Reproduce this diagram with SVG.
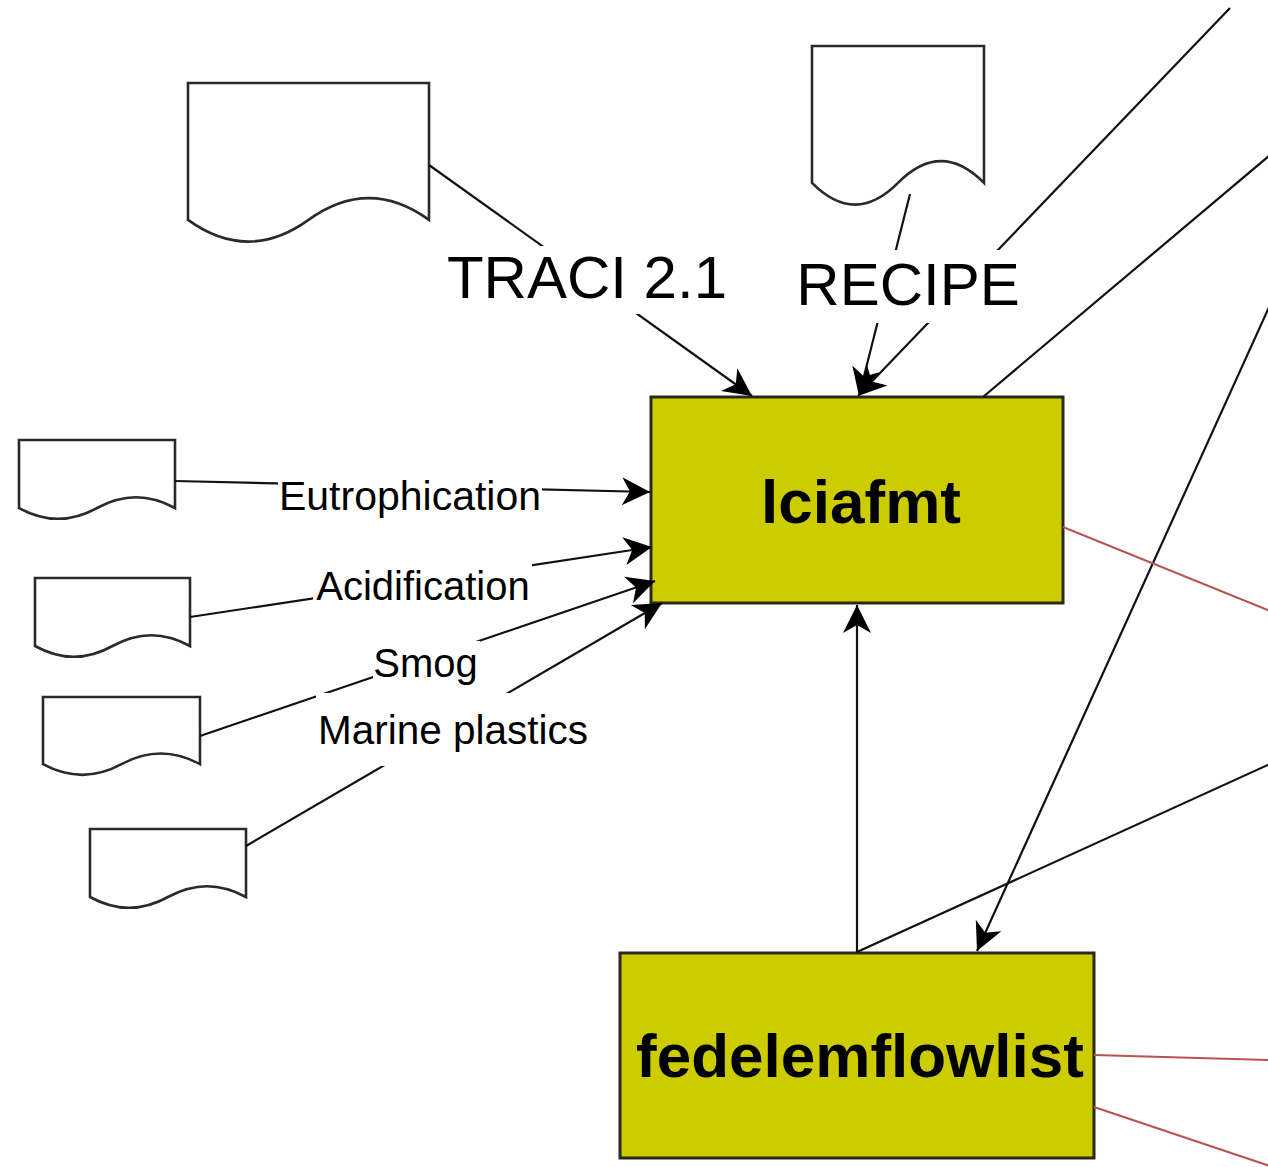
<svg xmlns="http://www.w3.org/2000/svg" width="1268" height="1167" viewBox="0 0 1268 1167">
<defs>
<style>
.doc{fill:#fff;stroke:#2a2a2a;stroke-width:2.6}
.box{fill:#cccc00;stroke:#2a2a1a;stroke-width:3}
.big{font-family:"Liberation Sans",Arial,sans-serif;font-weight:bold;font-size:62px;fill:#000;text-anchor:middle}
.lbl{font-family:"Liberation Sans",Arial,sans-serif;fill:#000;text-anchor:middle}
.edge{fill:none;stroke:#111;stroke-width:2.2}
.arr{marker-end:url(#ah)}
.red{fill:none;stroke:#b85450;stroke-width:2}
.bg{fill:#fff}
</style>
<marker id="ah" viewBox="-30 -16 32 32" refX="0" refY="0" markerWidth="32" markerHeight="32" markerUnits="userSpaceOnUse" orient="auto">
<path d="M0,0 L-28,-14 L-20,0 L-28,14 Z" fill="#000"/>
</marker>
</defs>
<rect width="1268" height="1167" fill="#fff"/>

<g id="doc-traci"><path class="doc" d="M188,83 H429 V219.9 Q368.8,176.4 308.5,219.9 Q248.3,263.3 188,219.9 Z"/></g>
<g id="doc-recipe"><path class="doc" d="M812,46 H984 V182.9 Q941,139.4 898,182.9 Q855,226.3 812,182.9 Z"/></g>
<g id="doc-eutrophication"><path class="doc" d="M19,440 H175 V508 Q136,486.4 97,508 Q58,529.6 19,508 Z"/></g>
<g id="doc-acidification"><path class="doc" d="M35,578 H190 V646 Q151.3,624.4 112.5,646 Q73.8,667.6 35,646 Z"/></g>
<g id="doc-smog"><path class="doc" d="M43,697 H200 V764.2 Q160.8,742.8 121.5,764.2 Q82.3,785.5 43,764.2 Z"/></g>
<g id="doc-marine"><path class="doc" d="M90,829 H246 V897 Q207,875.4 168,897 Q129,918.6 90,897 Z"/></g>

<g id="lciafmt">
<rect class="box" x="651" y="397" width="412" height="206"/>
<text class="big" x="861" y="523">lciafmt</text>
</g>
<g id="fedelemflowlist">
<rect class="box" x="620" y="953" width="474" height="205"/>
<text class="big" x="860" y="1077">fedelemflowlist</text>
</g>

<g id="connectors">
<line class="edge arr" x1="429" y1="165" x2="752" y2="396"/>
<line class="edge arr" x1="910" y1="194" x2="859" y2="396"/>
<line class="edge arr" x1="1230" y1="8" x2="858" y2="396"/>
<line class="edge" x1="1270" y1="155" x2="983" y2="397"/>
<line class="edge arr" x1="1270" y1="305" x2="977" y2="951"/>
<line class="edge" x1="1270" y1="764" x2="857" y2="952"/>
<line class="edge arr" x1="857" y1="952" x2="857" y2="605"/>
<line class="edge arr" x1="175" y1="481" x2="650" y2="492"/>
<line class="edge arr" x1="190" y1="617" x2="652" y2="547"/>
<line class="edge arr" x1="200" y1="736" x2="655" y2="581"/>
<line class="edge arr" x1="246" y1="846" x2="662" y2="603"/>
<line class="red" x1="1063" y1="527" x2="1270" y2="611"/>
<line class="red" x1="1094" y1="1055" x2="1270" y2="1060"/>
<line class="red" x1="1094" y1="1107" x2="1270" y2="1166"/>

<rect class="bg" x="445" y="246" width="285" height="68"/>
<text class="lbl" x="587" y="298" font-size="60">TRACI 2.1</text>
<rect class="bg" x="795" y="250" width="227" height="73"/>
<text class="lbl" x="908" y="305" font-size="60">RECIPE</text>
<rect class="bg" x="278" y="470" width="264" height="50"/>
<text class="lbl" x="410" y="510" font-size="41">Eutrophication</text>
<rect class="bg" x="313" y="562" width="219" height="48"/>
<text class="lbl" x="423" y="600" font-size="40">Acidification</text>
<rect class="bg" x="373" y="641" width="107" height="48"/>
<text class="lbl" x="425.5" y="677" font-size="40">Smog</text>
<rect class="bg" x="316" y="693" width="276" height="73"/>
<text class="lbl" x="453" y="744" font-size="40.5">Marine plastics</text>
</g>
</svg>
